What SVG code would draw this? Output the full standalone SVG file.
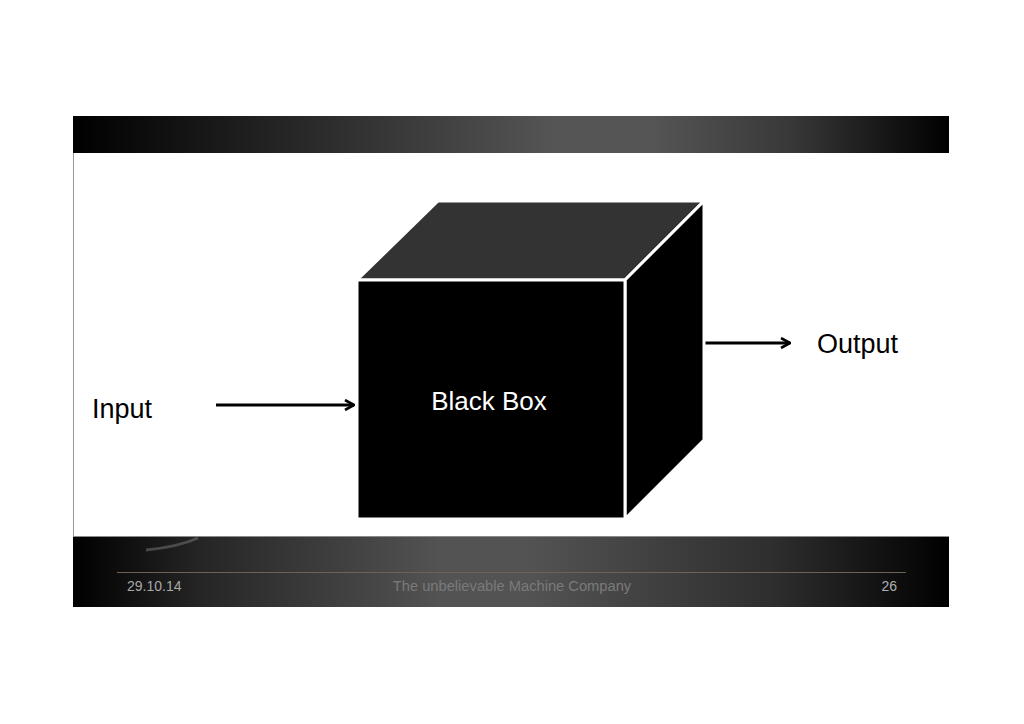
<svg xmlns="http://www.w3.org/2000/svg" width="1024" height="724" viewBox="0 0 1024 724">
<style>
.lbl{font-family:"Liberation Sans",Arial,sans-serif;font-size:27px;fill:#000}
.foot{font-family:"Liberation Sans",Arial,sans-serif;font-size:14px}
.face{stroke:#fff;stroke-width:3;stroke-linejoin:miter}
.conn{stroke:#000;stroke-width:3;fill:none}
</style>
<defs>
<linearGradient id="hdr" x1="0" y1="0" x2="1" y2="0">
<stop offset="0" stop-color="#000"/>
<stop offset="0.3" stop-color="#2e2e2e"/>
<stop offset="0.55" stop-color="#555"/>
<stop offset="0.66" stop-color="#555"/>
<stop offset="0.82" stop-color="#383838"/>
<stop offset="1" stop-color="#000"/>
</linearGradient>
<linearGradient id="ftr2" x1="0" y1="0" x2="1" y2="0">
<stop offset="0" stop-color="#000"/>
<stop offset="0.15" stop-color="#262626"/>
<stop offset="0.42" stop-color="#535353"/>
<stop offset="0.52" stop-color="#535353"/>
<stop offset="0.8" stop-color="#2e2e2e"/>
<stop offset="1" stop-color="#000"/>
</linearGradient>
<marker id="chev" viewBox="0 0 12 12" refX="11" refY="6" markerWidth="12" markerHeight="12" markerUnits="userSpaceOnUse" orient="auto">
<path d="M2,1 L11,6 L2,11" fill="none" stroke="#000" stroke-width="2.6" stroke-linejoin="miter"/>
</marker>
</defs>
<rect width="1024" height="724" fill="#fff"/>
<g id="slide-frame">
<rect x="73" y="116" width="876" height="37" fill="url(#hdr)"/>
<line x1="73.5" y1="153" x2="73.5" y2="536" stroke="#9a9a9a" stroke-width="1"/>
<rect x="73" y="536" width="876" height="71" fill="url(#ftr2)"/>
<line x1="73" y1="536.5" x2="949" y2="536.5" stroke="#8a8a8a" stroke-width="1"/>
<path d="M146,550 Q178,547 198,538" fill="none" stroke="#6a6a6a" stroke-width="3" opacity="0.6"/>
<line x1="117" y1="572.5" x2="906" y2="572.5" stroke="#6e6254" stroke-width="1"/>
<text class="foot" x="127" y="591" fill="#a8a8a8">29.10.14</text>
<text class="foot" x="512" y="591" fill="#7a7a7a" text-anchor="middle" style="font-size:14.7px">The unbelievable Machine Company</text>
<text class="foot" x="897" y="591" fill="#b0b0b0" text-anchor="end">26</text>
</g>
<g id="connectors">
<line class="conn" x1="216" y1="405" x2="354" y2="405" marker-end="url(#chev)"/>
<line class="conn" x1="705" y1="343" x2="790" y2="343" marker-end="url(#chev)"/>
</g>
<g id="black-box">
<polygon class="face" points="357,280 438,201 704,201 625,280" fill="#333"/>
<polygon class="face" points="625,280 704,201 704,440 625,519" fill="#000"/>
<rect x="357" y="280" width="268" height="239" fill="#000" stroke="#fff" stroke-width="3"/>
<text x="489" y="410" text-anchor="middle" font-family="Liberation Sans, Arial, sans-serif" font-size="26" fill="#fff">Black Box</text>
</g>
<g id="input">
<text class="lbl" x="92" y="418">Input</text>
</g>
<g id="output">
<text class="lbl" x="817" y="353">Output</text>
</g>
</svg>
